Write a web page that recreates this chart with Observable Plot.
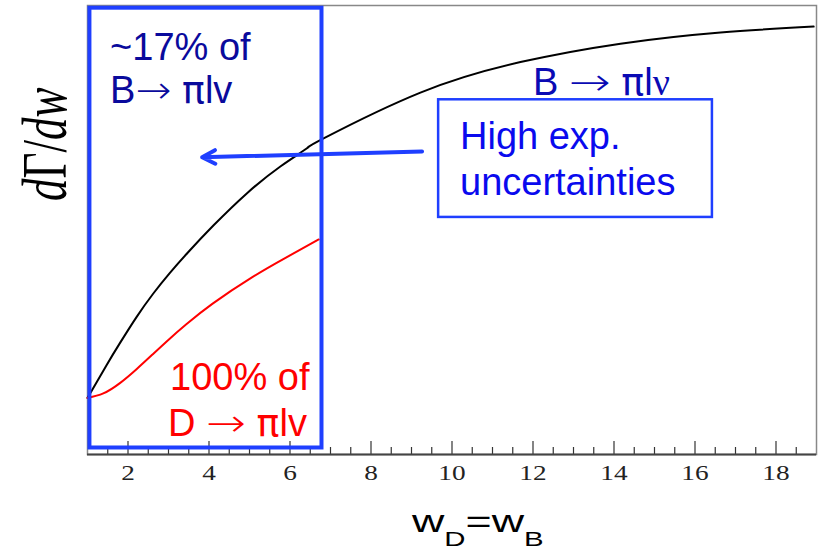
<!DOCTYPE html>
<html><head><meta charset="utf-8">
<script src="https://cdn.jsdelivr.net/npm/d3@7"></script>
<script src="https://cdn.jsdelivr.net/npm/@observablehq/plot@0.6"></script>
<style>body{margin:0;background:#fff}svg{display:block}</style>
</head><body><div id="chart"></div>
<script>
// B -> pi l nu differential rate (black)
const bX = [1.0, 1.47, 1.80, 2.21, 2.62, 3.03, 3.49, 4.12, 4.94, 5.77, 6.42, 6.83, 9.22, 11.69, 14.16, 16.63, 18.93];
const bY = [12.6, 19.9, 24.8, 30.6, 35.8, 40.4, 45.1, 51.1, 58.2, 64.2, 68.2, 70.4, 80.6, 87.4, 91.5, 94.0, 95.3];
// D -> pi l nu differential rate (red)
const dX = [1.0, 1.39, 1.80, 2.21, 2.62, 3.03, 3.44, 4.09, 5.07, 5.89, 6.71];
const dY = [12.6, 13.6, 15.9, 19.0, 22.4, 25.8, 29.0, 33.6, 39.5, 43.8, 47.9];
const majorTicks = [2, 4, 6, 8, 10, 12, 14, 16, 18];
const minorTicks = d3.range(1.5, 19, 0.5).filter(v => v % 2 !== 0);

const bData = bX.map((x, i) => ({x, y: bY[i]}));
const dData = dX.map((x, i) => ({x, y: dY[i]}));

const BLUE = "#1f3fff";
const plot = Plot.plot({
  width: 821, height: 553,
  marginTop: 5, marginBottom: 99, marginLeft: 87, marginRight: 5,
  x: {domain: [1, 19]},
  y: {domain: [0, 100], axis: null},
  style: {fontFamily: "Liberation Serif", background: "#fff"},
  marks: [
    Plot.frame({stroke: "#888", strokeWidth: 1.5}),
    Plot.ruleX(minorTicks, {y1: 0, y2: 1.56, stroke: "#333", strokeWidth: 1.2}),
    Plot.ruleX(majorTicks, {y1: 0, y2: 2.9, stroke: "#333", strokeWidth: 1.2}),
    Plot.ruleY([0], {stroke: "#444", strokeWidth: 2}),
    Plot.axisX(majorTicks, {tickSize: 0, tickPadding: 11, fontSize: 21, fill: "#222", label: null}),
    Plot.line(bData, {x: "x", y: "y", stroke: "#000", strokeWidth: 2, curve: "natural"}),
    Plot.line(dData, {x: "x", y: "y", stroke: "#ff0000", strokeWidth: 2, curve: "natural"}),
    Plot.rect([0], {x1: 1.06, x2: 6.79, y1: 1.45, y2: 99.4, fill: "none", stroke: BLUE, strokeWidth: 4}),
    Plot.rect([0], {x1: 9.67, x2: 16.43, y1: 52.8, y2: 79.0, fill: "white", stroke: BLUE, strokeWidth: 2.5}),
    Plot.arrow([0], {x1: 9.26, y1: 67.5, x2: 3.83, y2: 66.2, stroke: BLUE, strokeWidth: 4, headLength: 5.5, headAngle: 55})
  ]
});
document.getElementById("chart").appendChild(plot);

const svg = d3.select(plot);
// stretch tick labels horizontally like the original canvas
svg.selectAll("g[aria-label='x-axis tick label'] text")
  .attr("transform", function() { return (this.getAttribute("transform") || "") + " scale(1.3,1)"; });

const sx = plot.scale("x"), sy = plot.scale("y");
const notes = [
  {parts: ["~17% of"], x: 1.57, y: 87.75, c: "#0a0a9c"},
  {parts: ["B", "→", " ", "π", "lv"], x: 1.57, y: 78.1, c: "#0a0a9c", al: 36},
  {parts: ["B ", "→", " ", "π", "l", "ν"], x: 12.01, y: 79.96, c: "#0a0ab4", al: 42},
  {parts: ["High exp."], x: 10.21, y: 67.93, c: "#0a0aee"},
  {parts: ["uncertainties"], x: 10.21, y: 57.68, c: "#0a0aee"},
  {parts: ["100% of"], x: 3.05, y: 14.25, c: "#ff0000"},
  {parts: ["D ", "→", " ", "π", "lv"], x: 3.0, y: 4.0, c: "#ff0000", al: 40}
];
const g = svg.append("g").attr("text-anchor", "start");
notes.forEach(d => {
  const t = g.append("text")
    .attr("x", sx.apply(d.x)).attr("y", sy.apply(d.y))
    .attr("fill", d.c)
    .style("font-family", "Liberation Sans, Arial, sans-serif")
    .style("font-size", "38px");
  d.parts.forEach(p => {
    const s = t.append("tspan").text(p);
    if (p === "→") s.style("font-family", "DejaVu Sans").style("font-weight", "200")
      .attr("textLength", d.al).attr("lengthAdjust", "spacingAndGlyphs");
    if (p === "π") s.style("font-family", "DejaVu Sans");
    if (p === "ν") s.style("font-family", "Liberation Serif");
  });
});

// y label
const yl = svg.append("text")
  .attr("transform", `translate(66,${sy.apply(69)}) rotate(-90) scale(1,1.4)`)
  .attr("text-anchor", "middle")
  .style("font-family", "Liberation Serif, serif")
  .style("font-size", "45px").attr("fill", "#000");
yl.append("tspan").style("font-style", "italic").text("d");
yl.append("tspan").text("Γ/");
yl.append("tspan").style("font-style", "italic").text("dw");

// x label
const xl = svg.append("text")
  .attr("transform", `translate(${sx.apply(10.65)},532) scale(1.4,1)`)
  .attr("text-anchor", "middle")
  .style("font-family", "Liberation Sans, Arial, sans-serif")
  .style("font-size", "32px").attr("fill", "#000");
xl.append("tspan").text("w");
xl.append("tspan").attr("dy", 14).style("font-size", "21px").text("D");
xl.append("tspan").attr("dy", -14).text("=w");
xl.append("tspan").attr("dy", 14).style("font-size", "21px").text("B");
</script></body></html>
